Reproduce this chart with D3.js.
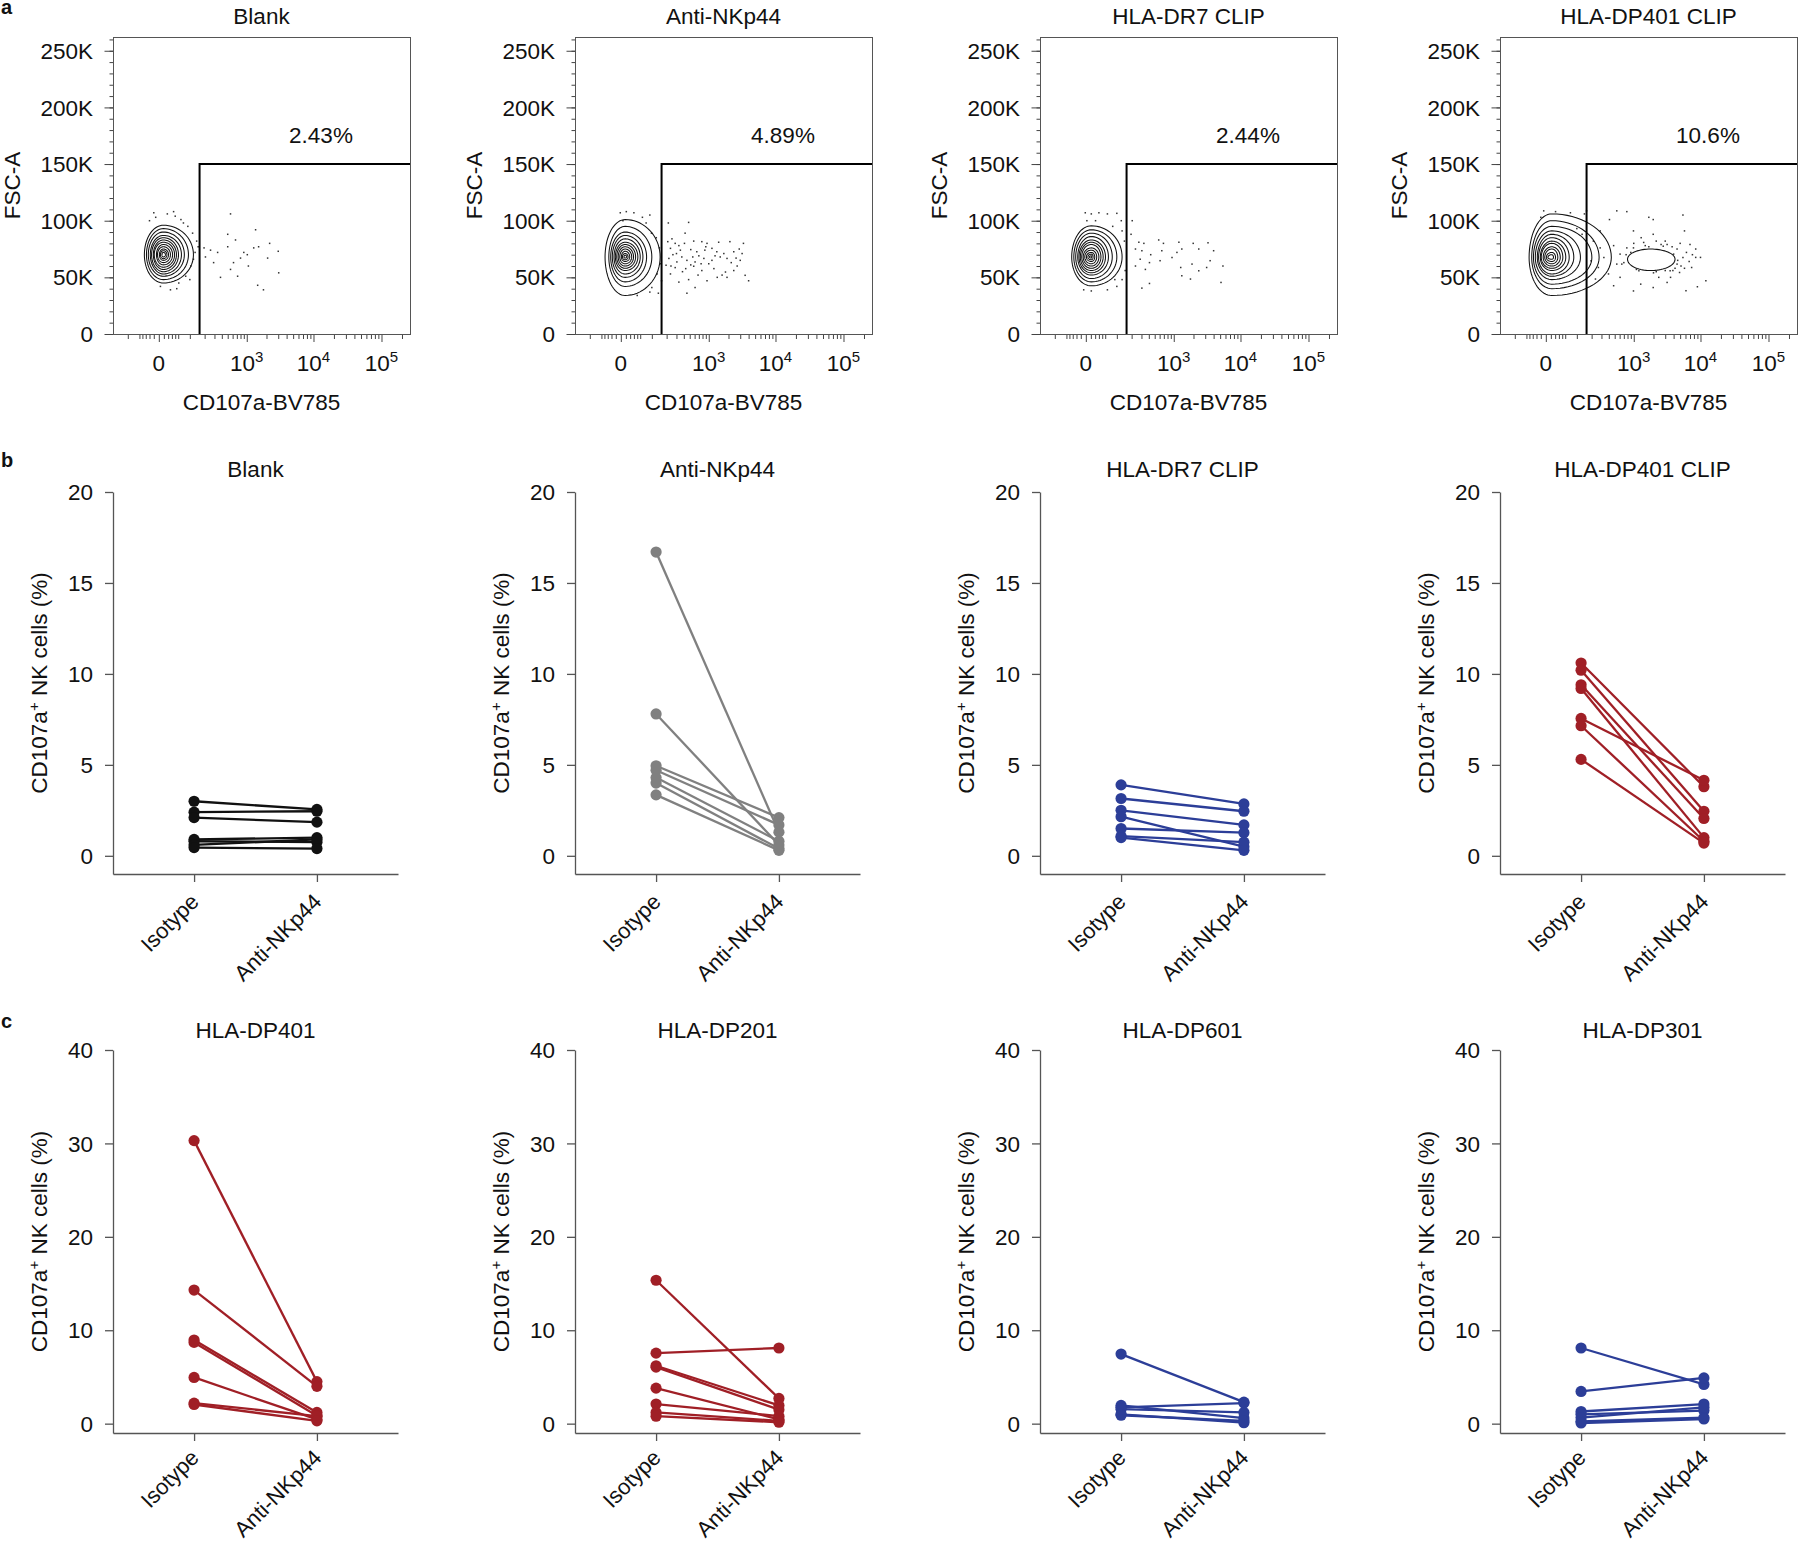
<!DOCTYPE html>
<html>
<head>
<meta charset="utf-8">
<script src="https://cdn.jsdelivr.net/npm/d3@7"></script>
<style>
  body { margin: 0; background: #fff; }
  svg text { font-family: 'Liberation Sans', Arial, Helvetica, sans-serif; fill: #111; }
</style>
</head>
<body>
<svg id="fig" width="1800" height="1545"></svg>
<script>
// ---------- panel a : flow plots ----------
var flowTitles = ["Blank", "Anti-NKp44", "HLA-DR7 CLIP", "HLA-DP401 CLIP"];
var flowPercents = ["2.43%", "4.89%", "2.44%", "10.6%"];
var fscTicks = [0, 50, 100, 150, 200, 250];            // in K
var fscTickLabels = ["0", "50K", "100K", "150K", "200K", "250K"];
var cdTicks = [0, 1000, 10000, 100000];
var cdTickBase = ["0", "10", "10", "10"];
var cdTickExp = ["", "3", "4", "5"];
var cdMinorTicks = [-100, -50, -40, -30, -20, -10, 10, 20, 30, 40, 50, 100, 200, 300, 400, 500, 600, 700, 800, 900,
  2000, 3000, 4000, 5000, 6000, 7000, 8000, 9000, 20000, 30000, 40000, 50000, 60000, 70000, 80000, 90000, 200000];
var gateCD = 160, gateFSC = 150;

// contour rings: [cd low, cd high, fsc low (K), fsc high (K)]
var flowCenters = [[9, 70], [8.5, 68], [11, 68], [12, 67.6]];
var blankRings = [[-34,120,45,96],[-28,93,48,93],[-23,74,51,90],[-18,62,53,87],[-15,51,55,85],[-11,44,57,83],
  [-9,38,59,81],[-4.5,32,61,79],[-2.5,26,63,77],[1,21,65,75],[3,17,66.5,73.5],[6,13.5,68,72]];
var antiRings = [[-38,150,34,101],[-27,100,42,95],[-22,75,46,90],[-18,60,50,87],[-14,50,53,84],[-11,42,56,81],
  [-8,35,58,79],[-5,29,60,77],[-2,24,62,75],[1,19,64,73],[3,15,65.5,71],[6,12,67,69.5]];
var dr7Rings = [[-33,130,42.5,95.5],[-27,100,46,92],[-22,78,49,89],[-17,62,52,86],[-14,51,54,83],[-11,43,56,81],
  [-8,36,58,79],[-5,30,60,76],[-2,24,62,74],[1,19,64,72],[4,15,65.5,70.5],[7,12,67,69]];
var clipRings = [[-41,440,34,106],[-33,273,40,100],[-28,202,44,95],[-23,120,48,91],[-18,85,51,88],[-15,65,53,85],
  [-11,52,56,82],[-9,42,58,80],[-5,34,60,77],[-2,27,62,75],[1,21,64,72],[4,16,66,70]];
var clipIsland = [800, 4200, 56, 75];
var clipIslandCenter = [1800, 66];

// single events: [cd, fsc (K)]
var blankDots = [[555,106],[1367,92],[500,88],[667,83],[2230,80],[3000,73],[1520,77],[1800,39],[1470,43],[380,50],
  [3050,54],[1060,60],[800,67],[340,72],[256,74],[207,68],[620,63],[555,57],[1020,70],[1280,76],[2080,67],[500,77],
  [720,51],[900,72],[290,63],[195,76],[-10,107],[35,108],[60,101],[3,42],[26,39],[80,51],[105,60],[115,89],[150,77],
  [-6,103],[18,106],[52,45],[90,95],[40,104],[70,98],[120,66],[130,72],[140,82],[-20,100],[100,48],[45,40]];
var antiDots = [[215,98],[480,98.5],[420,89],[210,81.5],[285,80],[410,80],[580,82],[780,81.5],[940,80],[1420,81],
  [2100,81.5],[3350,80],[235,75.6],[350,74],[520,74.5],[650,72.6],[1120,75.6],[1330,72.6],[1700,71],[2400,72.6],
  [3000,65],[1900,66.7],[1120,65],[840,66.7],[610,63.6],[450,65],[305,63.6],[220,66.7],[195,60.7],[285,58.6],
  [430,57.7],[580,59.8],[780,56],[1200,57.7],[1800,54.7],[2400,56],[3550,51.8],[4000,47],[1900,50],[940,47],
  [480,48],[330,45.8],[610,41],[450,36],[235,53],[160,47],[260,70],[370,68],[700,69],[1000,62],[1500,68],
  [2700,60],[330,78],[520,61],[870,74],[1600,52],[2900,75],[240,60],[300,71],[560,68],[760,62],[1250,69],
  [2200,63],[3200,71],[380,55],[680,52],[1350,50],[2600,67],[250,84],[900,77],
  [-1,107],[11,108],[30,107],[58,103],[90,105],[4,100],[73,98],[98,89],[125,85],[145,76],[150,62],[130,53],
  [100,41],[40,34],[138,36],[90,37]];
var dr7Dots = [[205,100],[195,88],[270,81],[330,80],[580,83],[690,80],[1200,81],[1980,80],[3300,80.5],[235,75],
  [305,73.5],[430,70],[650,73.5],[1120,72],[1330,75],[2400,75],[4000,73.5],[940,67.5],[610,64.7],[410,63],
  [285,66],[235,60],[350,57],[1280,58.7],[1900,61.7],[2400,55.8],[3150,58.7],[3550,64.7],[5500,60],[5150,45.5],
  [1800,48.5],[1330,51.4],[410,44.6],[305,40.5],
  [-1,107],[11,106],[30,107],[58,106],[100,106.5],[2,100],[21,100],[80,95],[125,100],[130,91],[145,82],[150,56],
  [130,48],[100,42],[58,39],[11,38],[-4,39],[90,48]];
var clipDots = [[160,108.7],[410,101],[540,108.7],[780,108],[1700,103],[1980,101],[5500,105],[285,91],[990,91],
  [1980,88],[3000,82],[5800,91],[8500,75],[10000,67.6],[7400,58.7],[4900,54.3],[12000,47],[9000,41.7],[6100,38.2],
  [3200,45.5],[1980,41],[1280,44],[990,38],[610,50],[480,42.6],[395,53],[265,58.7],[285,76],[480,78],[650,61.7],
  [880,67.5],[990,76],[1420,80.8],[2200,82],[3200,79],[4500,75],[5500,67.5],[5150,60],[3550,55.8],[2550,57.3],
  [1570,58.7],[1200,55.8],[610,70.5],[540,61.7],[330,67.5],[215,82],[195,64.6],[235,48.5],[8500,67.6],[7000,79],
  [4000,70.5],[4500,61.7],[780,76],[1000,80],[1500,78],[2600,79],[3800,77],[4200,58],[3000,56],[2000,54],
  [1100,57],[700,63],[6200,72],[6800,64],[1300,85],[2400,50],[3600,50],[5000,80],[900,72],[1700,77],
  [2800,77.5],[4600,65],[3900,56],[2200,55],[1200,60],[760,70],[5800,58],[7600,70],
  [-4,108.7],[21,108],[70,107],[145,106],[-10,103],[100,93],[130,88]];

// ---------- panels b and c : paired CD107a+ NK cells (%) ----------
var conditions = ["Isotype", "Anti-NKp44"];
var rowBTitles = ["Blank", "Anti-NKp44", "HLA-DR7 CLIP", "HLA-DP401 CLIP"];
var rowCTitles = ["HLA-DP401", "HLA-DP201", "HLA-DP601", "HLA-DP301"];
var rowBTicks = [0, 5, 10, 15, 20];
var rowCTicks = [0, 10, 20, 30, 40];

var blankIso = [3.0, 2.4, 2.1, 0.9, 0.8, 0.6, 0.45];
var blankAnti = [2.55, 2.45, 1.85, 1.0, 0.75, 0.9, 0.4];
var antiIso = [16.7, 7.8, 4.95, 4.7, 4.3, 4.0, 3.35];
var antiAnti = [1.3, 0.6, 2.1, 1.7, 0.8, 0.4, 0.3];
var dr7Iso = [3.9, 3.15, 2.5, 2.15, 1.5, 1.08, 1.0];
var dr7Anti = [2.85, 2.45, 1.7, 0.5, 1.27, 0.75, 0.3];
var clipIso = [10.6, 10.2, 9.4, 9.2, 7.55, 7.15, 5.3];
var clipAnti = [3.8, 2.45, 2.05, 1.0, 4.15, 0.8, 0.7];

var dp401Iso = [30.3, 14.3, 8.95, 8.7, 4.95, 2.2, 2.05];
var dp401Anti = [4.5, 4.0, 1.2, 0.85, 0.45, 0.8, 0.3];
var dp201Iso = [15.35, 7.55, 6.2, 6.05, 3.8, 2.1, 1.2, 0.8];
var dp201Anti = [2.7, 8.1, 1.95, 1.5, 0.45, 0.8, 0.3, 0.15];
var dp601Iso = [7.45, 1.95, 1.75, 1.55, 1.0, 0.9];
var dp601Anti = [2.3, 0.6, 2.2, 1.2, 0.1, 0.3];
var dp301Iso = [8.1, 3.45, 1.3, 1.0, 0.65, 0.25, 0.07];
var dp301Anti = [4.2, 4.9, 2.1, 1.4, 1.75, 0.65, 0.5];

var BLACK = "#111111", GREY = "#808080", BLUE = "#2c3e98", RED = "#a01f26";

// ---------- layout ----------
var FS = 22.5;
var colLeft = [113, 575, 1040, 1500];
var flowTop = 37, flowBottom = 334, flowW = 297;
var pairW = 285;
var rowB = { top: 492, base: 874, domain: [-1, 20], ticks: rowBTicks, titleY: 477, catDy: 29 };
var rowC = { top: 1050, base: 1433, domain: [-1, 40], ticks: rowCTicks, titleY: 1038, catDy: 26 };

var svg = d3.select("#fig");

function label(g, x, y, str, size, anchor, rot) {
    return g.append("text")
        .attr("transform", "translate(" + x + "," + y + ")" + (rot ? " rotate(" + rot + ")" : ""))
        .attr("text-anchor", anchor || "middle")
        .style("font-size", size + "px")
        .text(str);
}

function ringPath(x, y, r, c) {
    var X = x(c[0]), Y = y(c[1]);
    var rl = X - x(r[0]), rr = x(r[1]) - X, rb = y(r[2]) - Y, rt = Y - y(r[3]);
    var pts = d3.range(0, 73).map(function(k) {
        var t = k / 72 * 2 * Math.PI, cs = Math.cos(t), sn = Math.sin(t);
        return [X + (cs >= 0 ? rr : rl) * cs, Y + (sn >= 0 ? rb : rt) * sn];
    });
    return d3.line()(pts) + "Z";
}

function flowPlot(i, rings, dots) {
    var left = colLeft[i];
    var g = svg.append("g");
    var x = d3.scaleSymlog().constant(54).domain([-200, 262144]).range([left, left + flowW]);
    var y = d3.scaleLinear().domain([0, 262.144]).range([flowBottom, flowTop]);

    // axis ticks
    var yMinor = g.append("g").attr("transform", "translate(" + left + ",0)")
        .call(d3.axisLeft(y).tickValues(d3.range(0, 262, 10)).tickSize(3.5).tickSizeOuter(0).tickFormat(""));
    var yMajor = g.append("g").attr("transform", "translate(" + left + ",0)")
        .call(d3.axisLeft(y).tickValues(fscTicks).tickSize(8.5).tickSizeOuter(0).tickFormat(""));
    var xMinor = g.append("g").attr("transform", "translate(0," + flowBottom + ")")
        .call(d3.axisBottom(x).tickValues(cdMinorTicks).tickSize(5).tickSizeOuter(0).tickFormat(""));
    var xMajor = g.append("g").attr("transform", "translate(0," + flowBottom + ")")
        .call(d3.axisBottom(x).tickValues(cdTicks).tickSize(8).tickSizeOuter(0).tickFormat(""));
    [yMinor, yMajor, xMinor, xMajor].forEach(function(a) {
        a.select(".domain").remove();
        a.selectAll("line").attr("stroke", "#444").attr("stroke-width", 1);
    });

    g.append("rect").attr("x", left + 0.5).attr("y", flowTop + 0.5)
        .attr("width", flowW).attr("height", flowBottom - flowTop)
        .attr("fill", "none").attr("stroke", "#555").attr("stroke-width", 1);

    // events
    g.append("g").selectAll("rect").data(dots).enter().append("rect")
        .attr("x", function(d) { return x(d[0]) - 0.75; })
        .attr("y", function(d) { return y(d[1]) - 0.75; })
        .attr("width", 1.5).attr("height", 1.5)
        .attr("fill", "#333");

    // contours
    g.append("g").selectAll("path").data(rings).enter().append("path")
        .attr("d", function(r) { return ringPath(x, y, r, flowCenters[i]); })
        .attr("fill", "none")
        .attr("stroke", "#111").attr("stroke-width", 1.05);
    if (i === 3) {
        g.append("path").attr("d", ringPath(x, y, clipIsland, clipIslandCenter))
            .attr("fill", "#fff").attr("stroke", "#111").attr("stroke-width", 1.05);
    }

    // gate
    g.append("path")
        .attr("d", d3.line()([[x(gateCD), y(0)], [x(gateCD), y(gateFSC)], [left + flowW, y(gateFSC)]]))
        .attr("fill", "none").attr("stroke", "#000").attr("stroke-width", 2);

    label(g, left + 208, 143, flowPercents[i], FS, "middle");
    label(g, left + flowW / 2, 24, flowTitles[i], FS, "middle");

    fscTicks.forEach(function(v, k) {
        label(g, left - 20, y(v), fscTickLabels[k], FS, "end").attr("dy", "0.36em");
    });
    cdTicks.forEach(function(v, k) {
        var t = label(g, x(v), 371, cdTickBase[k], FS, "middle");
        if (cdTickExp[k]) {
            t.append("tspan").attr("dy", "-9").style("font-size", "15px").text(cdTickExp[k]);
        }
    });
    label(g, left + flowW / 2, 410, "CD107a-BV785", FS, "middle");
    label(g, left - 93, (flowTop + flowBottom) / 2, "FSC-A", FS, "middle", -90);
}

function pairPlot(i, row, title, iso, anti, color) {
    var left = colLeft[i];
    var g = svg.append("g");
    var x = d3.scalePoint().domain(conditions).range([left, left + pairW]).padding(0.66);
    var y = d3.scaleLinear().domain(row.domain).range([row.base, row.top]);

    var ya = g.append("g").attr("transform", "translate(" + left + ",0)")
        .call(d3.axisLeft(y).tickValues(row.ticks).tickSize(8).tickSizeOuter(0).tickFormat(""));
    var xa = g.append("g").attr("transform", "translate(0," + row.base + ")")
        .call(d3.axisBottom(x).tickSize(8).tickSizeOuter(0).tickFormat(""));
    [ya, xa].forEach(function(a) {
        a.selectAll("line, path").attr("stroke", "#555").attr("stroke-width", 1.3);
    });

    var pairs = iso.map(function(v, k) { return [v, anti[k]]; });
    g.append("g").selectAll("line").data(pairs).enter().append("line")
        .attr("x1", x(conditions[0])).attr("x2", x(conditions[1]))
        .attr("y1", function(d) { return y(d[0]); })
        .attr("y2", function(d) { return y(d[1]); })
        .attr("stroke", color).attr("stroke-width", 2.3);
    var pts = [];
    pairs.forEach(function(d) { pts.push([conditions[0], d[0]]); pts.push([conditions[1], d[1]]); });
    g.append("g").selectAll("circle").data(pts).enter().append("circle")
        .attr("cx", function(d) { return x(d[0]); })
        .attr("cy", function(d) { return y(d[1]); })
        .attr("r", 5.6).attr("fill", color);

    row.ticks.forEach(function(v) {
        label(g, left - 20, y(v), String(v), FS, "end").attr("dy", "0.36em");
    });
    conditions.forEach(function(c) {
        label(g, x(c) + 6, row.base + row.catDy, c, 22, "end", -45);
    });
    label(g, left + pairW / 2, row.titleY, title, FS, "middle");

    var yl = label(g, left - 66, (row.top + row.base) / 2, "CD107a", FS, "middle", -90);
    yl.append("tspan").attr("dy", "-8").style("font-size", "15px").text("+");
    yl.append("tspan").attr("dy", "8").text(" NK cells (%)");
}

// panel a
flowPlot(0, blankRings, blankDots);
flowPlot(1, antiRings, antiDots);
flowPlot(2, dr7Rings, dr7Dots);
flowPlot(3, clipRings, clipDots);

// panel b
pairPlot(0, rowB, rowBTitles[0], blankIso, blankAnti, BLACK);
pairPlot(1, rowB, rowBTitles[1], antiIso, antiAnti, GREY);
pairPlot(2, rowB, rowBTitles[2], dr7Iso, dr7Anti, BLUE);
pairPlot(3, rowB, rowBTitles[3], clipIso, clipAnti, RED);

// panel c
pairPlot(0, rowC, rowCTitles[0], dp401Iso, dp401Anti, RED);
pairPlot(1, rowC, rowCTitles[1], dp201Iso, dp201Anti, RED);
pairPlot(2, rowC, rowCTitles[2], dp601Iso, dp601Anti, BLUE);
pairPlot(3, rowC, rowCTitles[3], dp301Iso, dp301Anti, BLUE);

// panel letters
[["a", 14], ["b", 467], ["c", 1028]].forEach(function(p) {
    label(svg, 1, p[1], p[0], 20, "start").style("font-weight", "bold");
});
</script>
</body>
</html>
